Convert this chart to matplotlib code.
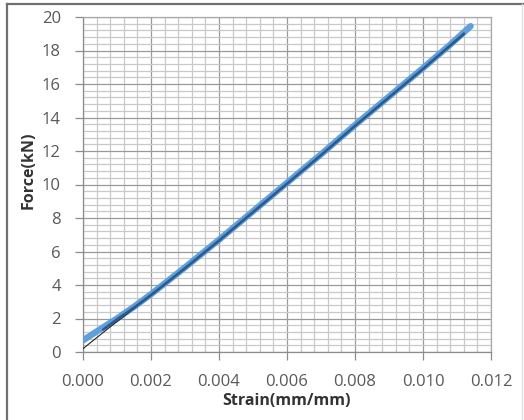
import matplotlib
matplotlib.use("Agg")
import matplotlib.pyplot as plt
from matplotlib.ticker import MultipleLocator
from matplotlib.lines import Line2D

plt.rcParams['font.family'] = ['Open Sans', 'DejaVu Sans']

# measured data (light blue)
strain_meas = [0.0, 0.0005, 0.001, 0.0015, 0.002, 0.003, 0.004, 0.005, 0.006,
               0.007, 0.008, 0.009, 0.010, 0.0108, 0.0111, 0.0114]
force_meas = [0.7, 1.35, 2.0, 2.7, 3.45, 5.05, 6.7, 8.4, 10.1,
              11.8, 13.55, 15.25, 16.95, 18.35, 18.9, 19.45]
# dark core line
strain_core = [0.0006, 0.001, 0.0015, 0.002, 0.003, 0.004, 0.005, 0.006,
               0.007, 0.008, 0.009, 0.010, 0.0112]
force_core = [1.35, 1.95, 2.65, 3.4, 5.0, 6.65, 8.35, 10.05,
              11.75, 13.5, 15.2, 16.9, 19.0]
# second trace (thin black)
strain_fit = [0.0, 0.0008, 0.0015, 0.002, 0.004, 0.006, 0.008, 0.010, 0.0112]
force_fit = [0.2, 1.5, 2.6, 3.38, 6.65, 10.05, 13.5, 16.9, 18.95]

xticks = [0.000, 0.002, 0.004, 0.006, 0.008, 0.010, 0.012]
yticks = [0, 2, 4, 6, 8, 10, 12, 14, 16, 18, 20]

W, H = 524, 420
fig = plt.figure(figsize=(W / 100, H / 100), dpi=100)
ax = fig.add_axes([83 / W, 1 - 352 / H, (491 - 83) / W, (352 - 17) / H])

ax.plot(strain_meas, force_meas, color='#5f9fdc', lw=4.6, solid_capstyle='round', zorder=3)
ax.plot(strain_fit, force_fit, color='#222222', lw=0.8, zorder=4)
ax.plot(strain_core, force_core, color='#2a5b8c', lw=1.8, zorder=5)

ax.set_xlim(0, 0.012)
ax.set_ylim(0, 20)
ax.set_xticks(xticks)
ax.set_xticklabels([f"{v:.3f}" for v in xticks])
ax.set_yticks(yticks)
ax.xaxis.set_minor_locator(MultipleLocator(0.0004))
ax.yaxis.set_minor_locator(MultipleLocator(0.4))
ax.grid(which='major', color='#9a9a9a', lw=0.9, zorder=1)
ax.grid(which='minor', color='#c9c9c9', lw=0.9, zorder=1)
ax.set_axisbelow(True)
for s in ax.spines.values():
    s.set_color('#a8a8a8')
    s.set_linewidth(0.9)
ax.spines['left'].set_color('#8c8c8c')
ax.spines['bottom'].set_color('#8c8c8c')
ax.tick_params(which='major', length=6, width=0.9, color='#8c8c8c', labelsize=12,
               labelcolor='#595959', pad=10)
ax.tick_params(which='minor', length=0)

ax.set_xlabel('Strain(mm/mm)', fontsize=11.5, fontweight='bold', color='#333333', va='top')
ax.xaxis.set_label_coords(0.5, (352 - 393) / 335)
ax.set_ylabel('Force(kN)', fontsize=11.5, fontweight='bold', color='#333333')
ax.yaxis.set_label_coords((37 - 83) / 408, (352 - 170) / 335)

# figure frame
fig.add_artist(Line2D([7 / W, 1], [1 - 4 / H, 1 - 4 / H], color='#707070', lw=1.6))
fig.add_artist(Line2D([7 / W, 7 / W], [0, 1 - 4 / H], color='#707070', lw=1.6))
fig.add_artist(Line2D([522 / W, 522 / W], [0, 1 - 4 / H], color='#e0e0e0', lw=1.0))

fig.savefig('out.png', dpi=100)
